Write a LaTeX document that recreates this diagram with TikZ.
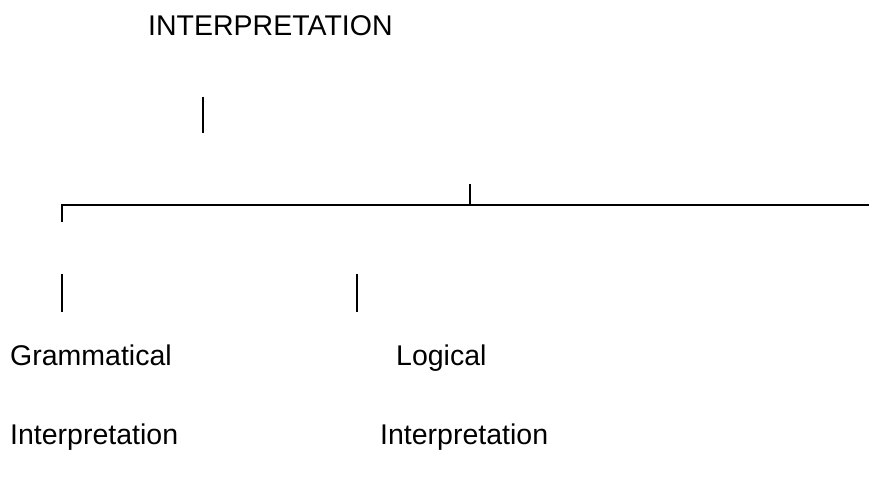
\documentclass[tikz,border=0pt]{standalone}
\usepackage{fontspec}
\setmainfont{Liberation Sans}
\usepackage{tikz}
\usetikzlibrary{positioning}

\begin{document}
\begin{tikzpicture}[x=1pt,y=-1pt,
    lbl/.style={anchor=base west,inner sep=0pt,font=\fontsize{28.5}{32}\selectfont},
    bar/.style={line width=2.2pt},
    rule/.style={line width=2.8pt}]
  \useasboundingbox (0,0) rectangle (869,489);
  \node[lbl] (I) at (148,36) {INTERPRETATION};
  \node[lbl] (G) at (10,365) {Grammatical};
  \node[lbl] (L) at (396,365) {Logical};
  \node[lbl] (GI) at (10,444) {Interpretation};
  \node[lbl] (LI) at (380,444) {Interpretation};
  % bars and the rule
  \coordinate (Ta) at (203,97);  \coordinate (Tb) at (203,133);
  \coordinate (Rl) at (62,205);  \coordinate (Rr) at (869,205);
  \coordinate (Rd) at (62,222);
  \coordinate (Ma) at (470,205); \coordinate (Mb) at (470,184);
  \coordinate (Ga) at (62,274);  \coordinate (Gb) at (62,312);
  \coordinate (La) at (357,274); \coordinate (Lb) at (357,312);
  \draw[bar] (Ta) -- (Tb);
  \draw[rule] (Rd) -- (Rl) -- (Rr);
  \draw[bar] (Ma) -- (Mb);
  \draw[bar] (Ga) -- (Gb);
  \draw[bar] (La) -- (Lb);
\end{tikzpicture}
\end{document}
